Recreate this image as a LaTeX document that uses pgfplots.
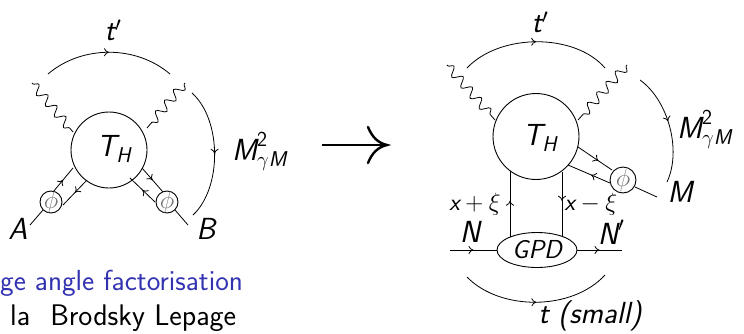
\documentclass[border=0pt]{standalone}
\usepackage{fontspec}
\usepackage{amsmath}
\usepackage{pgfplots}
\pgfplotsset{compat=1.18}
\usetikzlibrary{decorations.pathmorphing,decorations.markings,arrows.meta}
\definecolor{bblue}{rgb}{0.2,0.2,0.7}
\newcommand\si[1]{\text{\sffamily\itshape #1}}
\newcommand\su[1]{\text{\sffamily\upshape #1}}
\tikzset{
  mid/.style={postaction={decorate},decoration={markings,mark=at position #1 with {\arrow{Computer Modern Rightarrow[length=5pt,width=8pt]}}}},
  mid/.default=0.5,
  wave/.style={decorate,decoration={snake,segment length=14pt,amplitude=4.5pt,pre length=1pt,post length=1pt}},
  lab/.style={font=\fontsize{30.5}{33}\selectfont\sffamily\itshape, inner sep=0pt},
  sml/.style={font=\fontsize{24}{26}\selectfont\sffamily\itshape, inner sep=0pt},
  phi/.style={font=\fontsize{27}{29}\selectfont, text=black!55, inner sep=0pt},
}
\begin{document}
\begin{tikzpicture}
\begin{axis}[x=1pt,y=1pt,xmin=0,xmax=744,ymin=0,ymax=334,y dir=reverse,
  axis lines=none, clip=true, anchor=origin]
\coordinate (sw) at (axis cs:0,334);
\coordinate (ne) at (axis cs:744,0);
% ---------------- left diagram ----------------
\begin{scope}[line width=0.8pt]
\draw[mid] (48,74) .. controls (82,45) and (136,45) .. (170,74);
\draw[mid] (192,93) .. controls (222,120) and (222,188) .. (193,215);
\draw[wave] (32,83) -- (73,132);
\draw[wave] (185,83) -- (147,128);
\draw[line width=0.9pt] (109,150) circle[radius=38pt];
\draw[mid] (53,192) -- (73,168);
\draw[mid] (87,180) -- (63,205);
\draw[line width=0.9pt] (51,202) circle[radius=11pt];
\draw (43,210) -- (30,225);
\draw[mid] (142,168) -- (163,192);
\draw[mid] (155,202) -- (130,178);
\draw[line width=0.9pt] (167,202) circle[radius=11pt];
\draw (175,210) -- (188,225);
\end{scope}
\node[lab] at (113,30) {$\si{t}'$};
\node[lab] at (114,149) {$\si{T}_{\si{H}}$};
\node[lab] at (18,229) {A};
\node[lab] at (206,229) {B};
\node[lab, anchor=base west] at (232,160) {$\si{M}^{\su{2}}_{\gamma\si{M}}$};
\node[phi] at (51,202) {$\phi$};
\node[phi] at (167,202) {$\phi$};
% ---------------- big arrow ----------------
\draw[line width=2.6pt] (322,145) -- (385,145);
\draw[line width=2.4pt, line cap=round] (368,127) .. controls (372,137) and (378,143) .. (387,145) .. controls (378,147) and (372,153) .. (368,163);
% ---------------- right diagram ----------------
\begin{scope}[line width=0.8pt]
\draw[mid] (467,68) .. controls (500,33) and (575,33) .. (605,68);
\draw[mid=0.45] (640,80) .. controls (668,100) and (682,150) .. (667,182);
\draw[mid] (467,277) .. controls (500,311) and (572,311) .. (605,275);
\draw[wave] (447,65) -- (495,120);
\draw[wave] (627,65) -- (578,120);
\draw[line width=0.9pt] (536,136.5) circle[radius=43pt];
\draw[mid=0.6] (578,147) -- (612,170);
\draw[mid=0.45] (610,183) -- (568,165);
\draw[line width=0.9pt] (623,180) circle[radius=13pt];
\draw (635,187) -- (657,197);
\draw[mid=0.55] (510,237) -- (510,171);
\draw[mid=0.45] (562,172) -- (562,236);
\draw[line width=0.9pt] (537,250) ellipse[x radius=40pt, y radius=17.5pt];
\draw[mid] (450,250) -- (497,250);
\draw[mid] (577,250) -- (622,250);
\end{scope}
\node[phi, font=\fontsize{31}{33}\selectfont] at (623,180) {$\phi$};
\node[lab] at (540,22) {$\si{t}'$};
\node[lab] at (540,138) {$\si{T}_{\si{H}}$};
\node[lab, anchor=base west] at (677,138) {$\si{M}^{\su{2}}_{\gamma\si{M}}$};
\node[lab] at (680,192) {M};
\node[sml] at (475,204) {$\si{x}+\xi$};
\node[sml] at (591,204) {$\si{x}-\xi$};
\node[lab] at (470,232) {N};
\node[lab] at (611,232) {$\si{N}'$};
\node[font=\fontsize{26}{28}\selectfont\sffamily\itshape, inner sep=0pt] at (537,250) {GPD};
\node[lab] at (590,316) {t (small)};
% ---------------- text ----------------
\node[font=\fontsize{29}{31}\selectfont\sffamily, inner sep=0pt, anchor=base west, text=bblue] at (0,290) {ge angle factorisation};
\node[font=\fontsize{29.8}{32}\selectfont\sffamily, inner sep=0pt, anchor=base west] at (10,325) {la\hspace{20pt}Brodsky Lepage};
\end{axis}
\pgfresetboundingbox
\path[use as bounding box] (sw) rectangle (ne);
\end{tikzpicture}
\end{document}
